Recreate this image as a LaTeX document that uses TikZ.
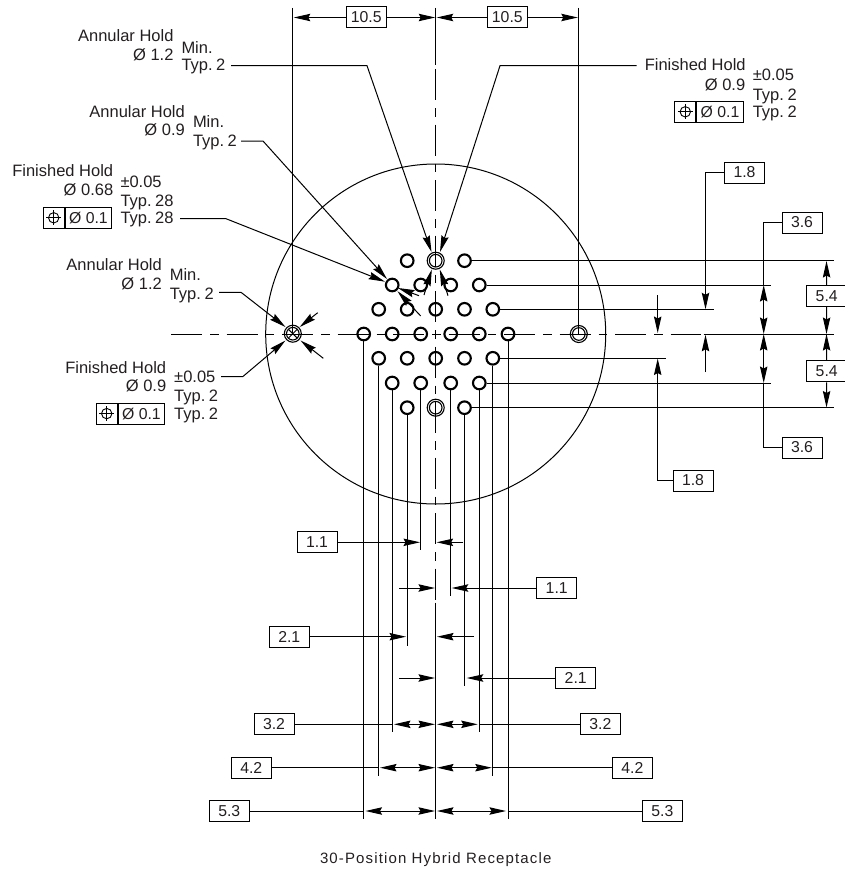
\documentclass[tikz,border=0pt]{standalone}
\usepackage{fontspec}
\setmainfont{Liberation Sans}
\usetikzlibrary{arrows.meta,calc}
\definecolor{ink}{HTML}{231F20}
\newcommand{\sz}{\fontsize{16.5}{18}\selectfont}
\newcommand{\dz}{\fontsize{15.8}{18}\selectfont}
\newcommand{\tz}{\sz\spaceskip=2pt\relax}
\tikzset{
  x=1pt,y=-1pt,
  tip/.tip={Stealth[length=16.5pt,width=7.4pt,inset=2pt]},
  every path/.style={line width=1pt},
  txtL/.style={anchor=base west,inner sep=0pt,text=ink,font=\sz},
  txtR/.style={anchor=base east,inner sep=0pt,text=ink,font=\sz},
  typ/.style={anchor=base west,inner sep=0pt,text=ink,font=\tz},
  dimbox/.style={draw,fill=white,minimum width=40pt,minimum height=21pt,inner sep=0pt,text=ink,font=\dz},
  fcfcell/.style={draw,minimum height=21pt,inner sep=0pt,text=ink,font=\dz},
  hole/.style={circle,draw,line width=2.1pt,minimum size=12.6pt,inner sep=0pt},
  bighole/.style={circle,draw,line width=1.1pt,minimum size=17pt,inner sep=0pt},
  innerring/.style={circle,draw,line width=1.1pt,minimum size=12.6pt,inner sep=0pt},
  centerdash/.style={dash pattern=on 31pt off 8pt on 8.8pt off 7.7pt},
}
\begin{document}
\begin{tikzpicture}
\useasboundingbox (0,0) rectangle (844,875);
% main circle
\node[circle,draw,minimum size=340pt,inner sep=0pt,line width=1pt] (body) at (435.7,334) {};
% centre lines
\coordinate (cl1) at (171,334); \coordinate (cl2) at (701,334);
\coordinate (cl3) at (703.5,334); \coordinate (cl4) at (834,334);
\draw[centerdash] (cl1) -- (cl2);
\draw (cl3) -- (cl4);
\coordinate (cv0) at (435.7,8); \coordinate (cv1) at (435.7,65);
\coordinate (cv2) at (435.7,69); \coordinate (cv3) at (435.7,600);
\coordinate (cv4) at (435.7,602.5); \coordinate (cv5) at (435.7,819);
\draw (cv0) -- (cv1);
\draw[centerdash] (cv2) -- (cv3);
\draw (cv4) -- (cv5);
% holes
\foreach \n/\x/\y in {a1/407.2/260.7,a3/464.5/260.7,
  b1/392.2/285,b2/420.7/285,b3/450.7/285,b4/479.3/285,
  c1/378.7/309.3,c2/407.2/309.3,c3/435.7/309.3,c4/464.5/309.3,c5/492.8/309.3,
  d1/363.7/334,d2/392.2/334,d3/420.7/334,d4/450.7/334,d5/479.3/334,d6/508/334,
  e1/378.7/358.3,e2/407.2/358.3,e3/435.7/358.3,e4/464.5/358.3,e5/492.8/358.3,
  f1/392.2/383,f2/420.7/383,f3/450.7/383,f4/479.3/383,
  g1/407.2/407.7,g3/464.5/407.7}
  {\node[hole] (\n) at (\x,\y) {};}
\foreach \n/\x/\y in {a2/435.7/260.7,g2/435.7/407.7,lh/292.8/333.7,rh/578.8/334}
  {\node[bighole] (\n) at (\x,\y) {};
   \node[innerring] (\n i) at (\x,\y) {};}
\draw (lh)++(-4.2,-4.2) -- ++(8.4,8.4);
\draw (lh)++(4.2,-4.2) -- ++(-8.4,8.4);
% top dimension
\coordinate (xl0) at (292.8,8); \coordinate (xr0) at (578.8,8);
\draw (xl0) -- (lh.center);
\draw (xr0) -- (rh.center);
\node[dimbox] (t1) at (366.3,17.5) {10.5};
\node[dimbox] (t2) at (507.3,17.5) {10.5};
\coordinate (t1a) at (293.8,17.5); \coordinate (t1b) at (435.2,17.5);
\coordinate (t2a) at (436.7,17.5); \coordinate (t2b) at (577.8,17.5);
\draw[-tip] (t1) -- (t1a);
\draw[-tip] (t1) -- (t1b);
\draw[-tip] (t2) -- (t2a);
\draw[-tip] (t2) -- (t2b);
% right extension lines
\coordinate (r1) at (834,0); \coordinate (r2) at (771,0);
\coordinate (r3) at (714,0); \coordinate (r4) at (666,0);
\draw (a3) -- (a3 -| r1);
\draw (b4) -- (b4 -| r2);
\draw (c5) -- (c5 -| r3);
\draw (e5) -- (e5 -| r4);
\draw (f4) -- (f4 -| r2);
\draw (g3) -- (g3 -| r1);
% right dims
\node[dimbox] (d18a) at (744.5,172.5) {1.8};
\coordinate (d18ac) at (705.5,172.5); \coordinate (d18at) at (705.5,309.3);
\draw[-tip] (d18a) -- (d18ac) -- (d18at);
\coordinate (d18bs) at (705.5,372); \coordinate (d18bt) at (705.5,334.8);
\draw[-tip] (d18bs) -- (d18bt);
\coordinate (d18cs) at (657.7,295); \coordinate (d18ct) at (657.7,333);
\draw[-tip] (d18cs) -- (d18ct);
\node[dimbox] (d18d) at (693,480.5) {1.8};
\coordinate (d18dc) at (657.7,480.5); \coordinate (d18dt) at (657.7,358.5);
\draw[-tip] (d18d) -- (d18dc) -- (d18dt);
\node[dimbox] (d36a) at (802,222.5) {3.6};
\coordinate (d36ac) at (763.7,222.5); \coordinate (d36at) at (763.7,285);
\coordinate (d36m) at (763.7,334);
\draw (d36a) -- (d36ac) -- (d36at);
\draw[tip-tip] (d36at) -- (d36m);
\node[dimbox] (d36b) at (802,447.5) {3.6};
\coordinate (d36bc) at (763.7,447.5); \coordinate (d36bt) at (763.7,383);
\draw (d36b) -- (d36bc) -- (d36bt);
\draw[tip-tip] (d36m) -- (d36bt);
\node[dimbox] (d54a) at (826.7,296) {5.4};
\node[dimbox] (d54b) at (826.7,371.3) {5.4};
\coordinate (d54t) at (826.5,261); \coordinate (d54m) at (826.5,334); \coordinate (d54e) at (826.5,407.5);
\draw[-tip] (d54a) -- (d54t);
\draw[-tip] (d54a) -- (d54m);
\draw[-tip] (d54b) -- (d54m);
\draw[-tip] (d54b) -- (d54e);
% bottom extension lines
\coordinate (b819) at (0,819); \coordinate (b776) at (0,775.7); \coordinate (b732) at (0,732);
\coordinate (b646) at (0,646); \coordinate (b550) at (0,550); \coordinate (b596) at (0,596); \coordinate (b686) at (0,685.7);
\draw (d1) -- (d1 |- b819);
\draw (e1) -- (e1 |- b776);
\draw (f1) -- (f1 |- b732);
\draw (g1) -- (g1 |- b646);
\draw (f2) -- (f2 |- b550);
\draw (f3) -- (f3 |- b596);
\draw (g3) -- (g3 |- b686);
\draw (f4) -- (f4 |- b732);
\draw (e5) -- (e5 |- b776);
\draw (d6) -- (d6 |- b819);
% bottom dims
\node[dimbox] (l11) at (317,542.3) {1.1};
\coordinate (l11t) at (420,542.3); \coordinate (l11r) at (463,542.3); \coordinate (l11q) at (436.6,542.3);
\draw[-tip] (l11) -- (l11t);
\draw[-tip] (l11r) -- (l11q);
\node[dimbox] (r11) at (556.7,588) {1.1};
\coordinate (r11t) at (451.7,588); \coordinate (r11l) at (399,588); \coordinate (r11q) at (435,588);
\draw[-tip] (r11) -- (r11t);
\draw[-tip] (r11l) -- (r11q);
\node[dimbox] (l21) at (289.3,636.7) {2.1};
\coordinate (l21t) at (406,636.7); \coordinate (l21r) at (474,636.7); \coordinate (l21q) at (437,636.7);
\draw[-tip] (l21) -- (l21t);
\draw[-tip] (l21r) -- (l21q);
\node[dimbox] (r21) at (575.7,678) {2.1};
\coordinate (r21t) at (466.7,678); \coordinate (r21l) at (399,678); \coordinate (r21q) at (435,678);
\draw[-tip] (r21) -- (r21t);
\draw[-tip] (r21l) -- (r21q);
\node[dimbox] (l32) at (274,724.3) {3.2};
\node[dimbox] (r32) at (600.3,724.3) {3.2};
\coordinate (l32a) at (392.2,724.3); \coordinate (l32b) at (394,724.3); \coordinate (l32c) at (435,724.3);
\coordinate (r32a) at (437,724.3); \coordinate (r32b) at (477.7,724.3); \coordinate (r32c) at (479.3,724.3);
\draw (l32) -- (l32a);
\draw[tip-tip] (l32b) -- (l32c);
\draw[tip-tip] (r32a) -- (r32b);
\draw (r32c) -- (r32);
\node[dimbox] (l42) at (251.3,767.7) {4.2};
\node[dimbox] (r42) at (632.3,767.7) {4.2};
\coordinate (l42a) at (378.7,767.7); \coordinate (l42b) at (380,767.7); \coordinate (l42c) at (435,767.7);
\coordinate (r42a) at (437,767.7); \coordinate (r42b) at (491.8,767.7); \coordinate (r42c) at (492.8,767.7);
\draw (l42) -- (l42a);
\draw[tip-tip] (l42b) -- (l42c);
\draw[tip-tip] (r42a) -- (r42b);
\draw (r42c) -- (r42);
\node[dimbox] (l53) at (229.3,811) {5.3};
\node[dimbox] (r53) at (662.3,811) {5.3};
\coordinate (l53a) at (363.7,811); \coordinate (l53b) at (365.5,811); \coordinate (l53c) at (435,811);
\coordinate (r53a) at (437,811); \coordinate (r53b) at (506,811); \coordinate (r53c) at (508,811);
\draw (l53) -- (l53a);
\draw[tip-tip] (l53b) -- (l53c);
\draw[tip-tip] (r53a) -- (r53b);
\draw (r53c) -- (r53);
% leaders: top big hole
\coordinate (la0) at (231,65.7); \coordinate (la1) at (367,65.7); \coordinate (la2) at (431.5,252);
\draw[-tip] (la0) -- (la1) -- (la2);
\coordinate (lb0) at (636.7,65.7); \coordinate (lb1) at (500,65.7); \coordinate (lb2) at (440,252);
\draw[-tip] (lb0) -- (lb1) -- (lb2);
\coordinate (lc0) at (424,295); \coordinate (lc1) at (431.8,269.5);
\coordinate (ld0) at (448,295.7); \coordinate (ld1) at (439.8,269.5);
\draw[-tip] (lc0) -- (lc1);
\draw[-tip] (ld0) -- (ld1);
% leaders: hole b1
\coordinate (le0) at (241,141); \coordinate (le1) at (263,141); \coordinate (le2) at (387,279);
\draw[-tip] (le0) -- (le1) -- (le2);
\coordinate (lf0) at (180,218.7); \coordinate (lf1) at (226,218.7); \coordinate (lf2) at (385,281.7);
\draw[-tip] (lf0) -- (lf1) -- (lf2);
\coordinate (lg0) at (419,295.7); \coordinate (lg1) at (398,288);
\coordinate (lh0) at (420.7,316); \coordinate (lh1) at (397.5,291.2);
\draw[-tip] (lg0) -- (lg1);
\draw[-tip] (lh0) -- (lh1);
% leaders: left hole
\coordinate (li0) at (219,292.3); \coordinate (li1) at (241,292.3); \coordinate (li2) at (285.5,327);
\draw[-tip] (li0) -- (li1) -- (li2);
\coordinate (lj0) at (221,376.7); \coordinate (lj1) at (242.7,376.7); \coordinate (lj2) at (285.5,340.5);
\draw[-tip] (lj0) -- (lj1) -- (lj2);
\coordinate (lk0) at (317.7,312.7); \coordinate (lk1) at (299.7,327);
\coordinate (ll0) at (323.3,358.3); \coordinate (ll1) at (300.5,340.5);
\draw[-tip] (lk0) -- (lk1);
\draw[-tip] (ll0) -- (ll1);
% text blocks
\node[txtR] (ta1) at (174,42) {Annular Hold};
\node[txtR] (ta2) at (174,61) {Ø 1.2};
\node[txtL] (ta3) at (181,53) {Min.};
\node[typ] (ta4) at (181,70.5) {Typ. 2};
\node[txtR] (tb1) at (185.3,117) {Annular Hold};
\node[txtR] (tb2) at (185.3,135.5) {Ø 0.9};
\node[txtL] (tb3) at (192.5,127.5) {Min.};
\node[typ] (tb4) at (192.5,146) {Typ. 2};
\node[txtR] (tc1) at (113.7,176.7) {Finished Hold};
\node[txtR] (tc2) at (113.7,195) {Ø 0.68};
\node[txtL] (tc3) at (120,187) {±0.05};
\node[typ] (tc4) at (120,206) {Typ. 28};
\node[typ] (tc5) at (120,223) {Typ. 28};
\node[txtL] (td1) at (644.3,70.7) {Finished Hold};
\node[txtR] (td2) at (745.7,90) {Ø 0.9};
\node[txtL] (td3) at (752.3,81) {±0.05};
\node[typ] (td4) at (752.3,100) {Typ. 2};
\node[typ] (td5) at (752.3,117.3) {Typ. 2};
\node[txtR] (te1) at (162.3,270) {Annular Hold};
\node[txtR] (te2) at (162.3,289) {Ø 1.2};
\node[txtL] (te3) at (169.3,280) {Min.};
\node[typ] (te4) at (169.3,299) {Typ. 2};
\node[txtR] (tf1) at (166.7,373.3) {Finished Hold};
\node[txtR] (tf2) at (166.7,391) {Ø 0.9};
\node[txtL] (tf3) at (173.7,382.7) {±0.05};
\node[typ] (tf4) at (173.7,401.5) {Typ. 2};
\node[typ] (tf5) at (173.7,419.3) {Typ. 2};
% feature control frames
\foreach \n/\x/\y in {fa/42.7/217.8,fb/674.3/111.8,fc/95.7/413.6}{
  \node[fcfcell,anchor=west,minimum width=21pt] (\n s) at (\x,\y) {};
  \node[fcfcell,anchor=west,minimum width=46.5pt] (\n v) at (\n s.east) {Ø 0.1};
  \draw[line width=.9pt] (\n s) circle[radius=5.2];
  \draw[line width=.7pt] ($(\n s)+(-7.5,0)$) -- ($(\n s)+(7.5,0)$);
  \draw[line width=.7pt] ($(\n s)+(0,-7.5)$) -- ($(\n s)+(0,7.5)$);
}
% caption
\node[anchor=base,inner sep=0pt,text=ink] (cap) at (435.7,863) {\addfontfeature{LetterSpace=7.6}\fontsize{15}{18}\selectfont 30-Position Hybrid Receptacle};
\end{tikzpicture}
\end{document}
